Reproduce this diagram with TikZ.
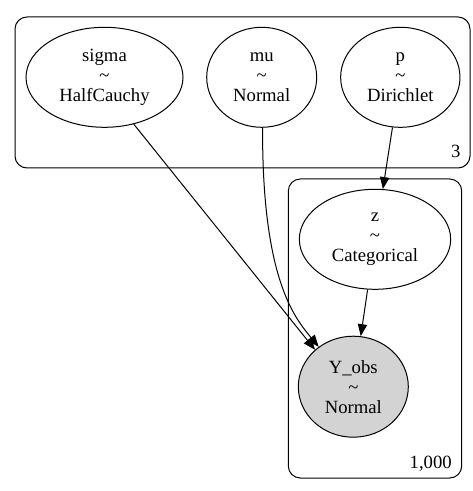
\documentclass[tikz,border=0pt]{standalone}
\usepackage{fontspec}
\setmainfont{Liberation Serif}
\usetikzlibrary{shapes.geometric,arrows.meta}
\definecolor{gvgray}{RGB}{211,211,211}
\tikzset{
  rv/.style={draw=black, ellipse, line width=0.75pt, inner sep=0pt, align=center,
    font=\fontsize{14}{15}\selectfont},
  plate/.style={draw=black, line width=0.75pt, rounded corners=9pt},
  edge/.style={draw=black, line width=0.75pt, -{Triangle[length=9pt,width=7pt]}},
  platelabel/.style={font=\fontsize{14}{15}\selectfont, inner sep=0pt}
}
\begin{document}
\begin{tikzpicture}[x=0.75pt,y=-0.75pt]
\useasboundingbox (0,0) rectangle (473,491);
% plates
\draw[plate] (15,17) rectangle (470,168);
\draw[plate] (288.3,179) rectangle (461.7,478);
\node[platelabel] (n3) at (455.7,151.7) {3};
\node[platelabel] (n1000) at (430.7,463.3) {1,000};
% nodes
\node[rv, minimum width=117.75pt, minimum height=75pt] (sigma) at (104.5,77.3) {sigma\\\textasciitilde\\HalfCauchy};
\node[rv, minimum width=82.5pt, minimum height=75pt] (mu) at (261.7,77.3) {mu\\\textasciitilde\\Normal};
\node[rv, minimum width=89.5pt, minimum height=75pt] (p) at (400.3,77.3) {p\\\textasciitilde\\Dirichlet};
\node[rv, minimum width=113.5pt, minimum height=75pt] (z) at (375,239.3) {z\\\textasciitilde\\Categorical};
\node[rv, fill=gvgray, minimum width=82.5pt, minimum height=75.75pt] (Y) at (353.3,386.7) {Y\_obs\\\textasciitilde\\Normal};
% edges
\draw[edge] (sigma.-58) -- (Y.136);
\draw[edge] (mu.-89) .. controls (262,280) and (295,318) .. (Y.131);
\draw[edge] (p) -- (z);
\draw[edge] (z) -- (Y);
\end{tikzpicture}
\end{document}
